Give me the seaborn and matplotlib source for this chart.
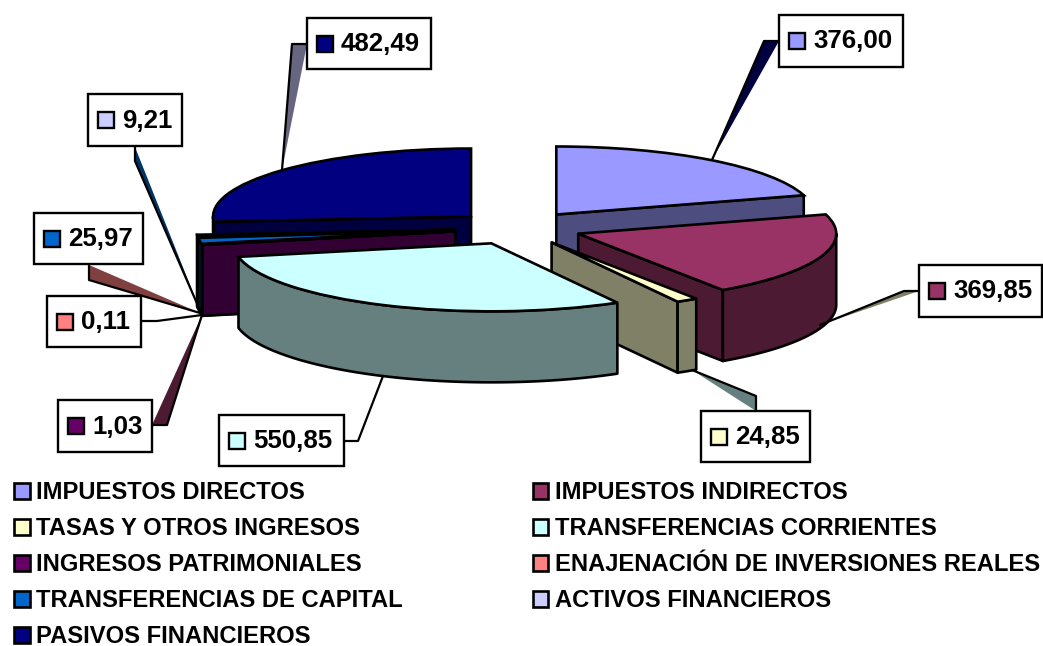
#!/usr/bin/env python3
import numpy as np
import matplotlib as mpl
mpl.use('Agg')
import matplotlib.pyplot as plt
from matplotlib.patches import Patch, Polygon, Rectangle
from matplotlib.colors import to_rgb
import seaborn as sns

sns.set_theme(style="white")
plt.rcParams['font.family'] = ['Liberation Sans', 'DejaVu Sans']
plt.rcParams['font.weight'] = 'bold'

# data
categories = ["IMPUESTOS DIRECTOS", "IMPUESTOS INDIRECTOS", "TASAS Y OTROS INGRESOS",
              "TRANSFERENCIAS CORRIENTES", "INGRESOS PATRIMONIALES",
              "ENAJENACIÓN DE INVERSIONES REALES", "TRANSFERENCIAS DE CAPITAL",
              "ACTIVOS FINANCIEROS", "PASIVOS FINANCIEROS"]
values = [376.00, 369.85, 24.85, 550.85, 1.03, 0.11, 25.97, 9.21, 482.49]
colors = ["#9999FF", "#993366", "#FFFFCC", "#CCFFFF", "#660066",
          "#FF8080", "#0066CC", "#CCCCFF", "#000080"]

# layout, all in pixels of the 1043x646 picture
W, H = 1043, 646
CX, CY, RX, RY = 518, 228, 258, 68
DEPTH = 71 / RY
EXPLODE = 0.248
EDGE = 1.9
# back to front
draw_order = [8, 0, 7, 6, 5, 4, 1, 2, 3]
# box x0, y0, x1, y1 for each category
boxes = [(779, 15, 903, 67), (919, 265, 1042, 317), (701, 411, 810, 462),
         (219, 415, 344, 466), (58, 400, 152, 452), (47, 296, 141, 347),
         (34, 213, 143, 264), (88, 94, 182, 146), (307, 18, 431, 69)]
# leader lines: rim point, elbow, box point, colour of the sliver between them
leaders = [((712, 160), (764, 41), (779, 41), 8),
           ((820, 325), (904, 291), (919, 291), 2),
           ((692, 370), (756, 396), (756, 411), 3),
           ((383, 376), (358, 441), (344, 441), None),
           ((202, 315), (167, 425), (152, 425), 1),
           ((202, 315), (157, 321), (141, 321), None),
           ((200, 313), (89, 280), (89, 265), 5),
           ((202, 315), (135, 161), (135, 147), 6),
           ((282, 170), (292, 44), (307, 44), 7)]


def side_colour(c):
    return tuple(v * 0.5 for v in to_rgb(c))


fig = plt.figure(figsize=(W / 100, H / 100), dpi=100, facecolor='white')
ax = fig.add_axes([0, 0, 1, 1])
wedges, _ = ax.pie(values, colors=colors, explode=[EXPLODE] * len(values),
                   startangle=90, counterclock=False, radius=1,
                   wedgeprops=dict(edgecolor='black', linewidth=EDGE))
ax.set_aspect('auto')
ax.set_xlim((0 - CX) / RX, (W - CX) / RX)
ax.set_ylim((CY - H) / RY, CY / RY)
ax.axis('off')


def rim_point(w, deg):
    t = np.radians(deg)
    return np.array([w.center[0] + np.cos(t), w.center[1] + np.sin(t)])


def add_face(pts, col, z):
    ax.add_patch(Polygon(pts, closed=True, facecolor=col, edgecolor='black',
                         linewidth=EDGE, joinstyle='round', zorder=z))


# side faces of the 3d pie, top face goes on after them
for z, i in enumerate(draw_order):
    w = wedges[i]
    col = side_colour(colors[i])
    z0 = 10 * (z + 1)
    apex = np.array(w.center)
    down = np.array([0, -DEPTH])
    for a, other in ((w.theta1, w.theta2), (w.theta2, w.theta1)):
        r = rim_point(w, a)
        p = rim_point(w, other)
        e = r - apex
        if abs(e[0]) < 1e-6:
            continue
        cross = e[0] * (p - apex)[1] - e[1] * (p - apex)[0]
        if cross * e[0] > 0:
            add_face([apex, r, r + down, apex + down], col, z0)
    ts = np.linspace(w.theta1, w.theta2, 400)
    ts = ts[np.sin(np.radians(ts)) <= 0]
    if len(ts) > 1:
        top = np.array([rim_point(w, t) for t in ts])
        add_face(np.vstack([top, (top + down)[::-1]]), col, z0 + 1)
    w.set_zorder(z0 + 2)

# overlay in pixels for the data labels
ov = fig.add_axes([0, 0, 1, 1], facecolor='none')
ov.set_xlim(0, W)
ov.set_ylim(H, 0)
ov.axis('off')

for p0, p1, p2, fill in leaders:
    if fill is not None:
        ov.add_patch(Polygon([p0, p1, p2], closed=True, linewidth=0,
                             facecolor=side_colour(colors[fill]), zorder=1))
    ov.plot([p0[0], p1[0], p2[0]], [p0[1], p1[1], p2[1]], color='black', lw=1.6, zorder=2)

for val, col, (x0, y0, x1, y1) in zip(values, colors, boxes):
    ov.add_patch(Rectangle((x0, y0), x1 - x0, y1 - y0, facecolor='white',
                           edgecolor='black', linewidth=1.7, zorder=3))
    ym = (y0 + y1) / 2
    ov.add_patch(Rectangle((x0 + 10, ym - 8), 16, 16, facecolor=col,
                           edgecolor='black', linewidth=1.7, zorder=4))
    ov.text(x0 + 34, ym + 0.5, f"{val:.2f}".replace('.', ','), fontsize=18.6, fontweight='bold',
            color='black', ha='left', va='center', zorder=5)

# legend fills by column, the picture reads by row
order = list(range(0, 9, 2)) + list(range(1, 9, 2))
handles = [Patch(facecolor=colors[i], edgecolor='black', linewidth=1.9) for i in order]
labels = [categories[i] for i in order]
fig.legend(handles, labels, ncol=2, frameon=False, loc='upper left',
           bbox_to_anchor=(14 / W, 1 - 481 / H), borderpad=0, borderaxespad=0,
           prop=dict(family='Liberation Sans', weight='bold', size=17.15),
           labelcolor='black',
           handlelength=0.66, handleheight=0.66, handletextpad=0.27,
           labelspacing=0.55, columnspacing=5.45)

fig.savefig('out.png', dpi=100)
